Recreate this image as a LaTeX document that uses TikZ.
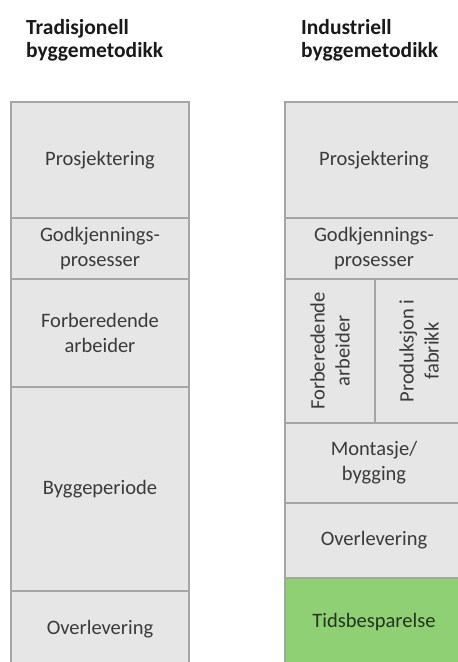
\documentclass[tikz,border=0pt]{standalone}
\usepackage{fontspec}
\setmainfont{Carlito}
\definecolor{boxfill}{RGB}{230,230,230}
\definecolor{boxline}{RGB}{165,165,165}
\definecolor{boxtext}{RGB}{58,58,58}
\definecolor{savegreen}{RGB}{144,208,116}
\definecolor{savetext}{RGB}{36,52,32}
\definecolor{titletext}{RGB}{25,25,25}
\begin{document}
\begin{tikzpicture}[x=1pt,y=-1pt,
  phase/.style={draw=boxline, line width=1.5pt, fill=boxfill, text=boxtext,
    inner sep=0pt, outer sep=0pt, align=center,
    font=\fontsize{20.5}{25}\selectfont, minimum width=178pt},
  saving/.style={phase, fill=savegreen, text=savetext},
  coltitle/.style={anchor=north west, align=left, inner sep=0pt, text=titletext,
    font=\fontsize{21.5}{23.5}\selectfont\bfseries}]
\useasboundingbox (0,0) rectangle (458,662);
\clip (0,0) rectangle (458,662);
\fill[white] (0,0) rectangle (458,662);
% titles
\node[coltitle] (tl) at (26,19) {Tradisjonell\\byggemetodikk};
\node[coltitle] (tr) at (301,19) {Industriell\\byggemetodikk};
% left column
\node[phase, minimum height=116pt] (l1) at (100,160) {Prosjektering};
\node[phase, minimum height=61pt] (l2) at (100,248.5) {Godkjennings-\\prosesser};
\node[phase, minimum height=108pt] (l3) at (100,333) {Forberedende\\arbeider};
\node[phase, minimum height=204pt] (l4) at (100,489) {Byggeperiode};
\node[phase, minimum height=76pt] (l5) at (100,629) {Overlevering};
% right column
\node[phase, minimum height=116pt] (r1) at (374,160) {Prosjektering};
\node[phase, minimum height=61pt] (r2) at (374,248.5) {Godkjennings-\\prosesser};
\node[phase, minimum width=144pt, minimum height=90pt, rotate=90] (r3a) at (330,351) {Forberedende\\arbeider};
\node[phase, minimum width=144pt, minimum height=88pt, rotate=90] (r3b) at (419,351) {Produksjon i\\fabrikk};
\node[phase, minimum height=80pt] (r4) at (374,463) {Montasje/\\bygging};
\node[phase, minimum height=75pt] (r5) at (374,540.5) {Overlevering};
\node[saving, minimum height=89pt] (r6) at (374,622.5) {Tidsbesparelse};
\end{tikzpicture}
\end{document}
